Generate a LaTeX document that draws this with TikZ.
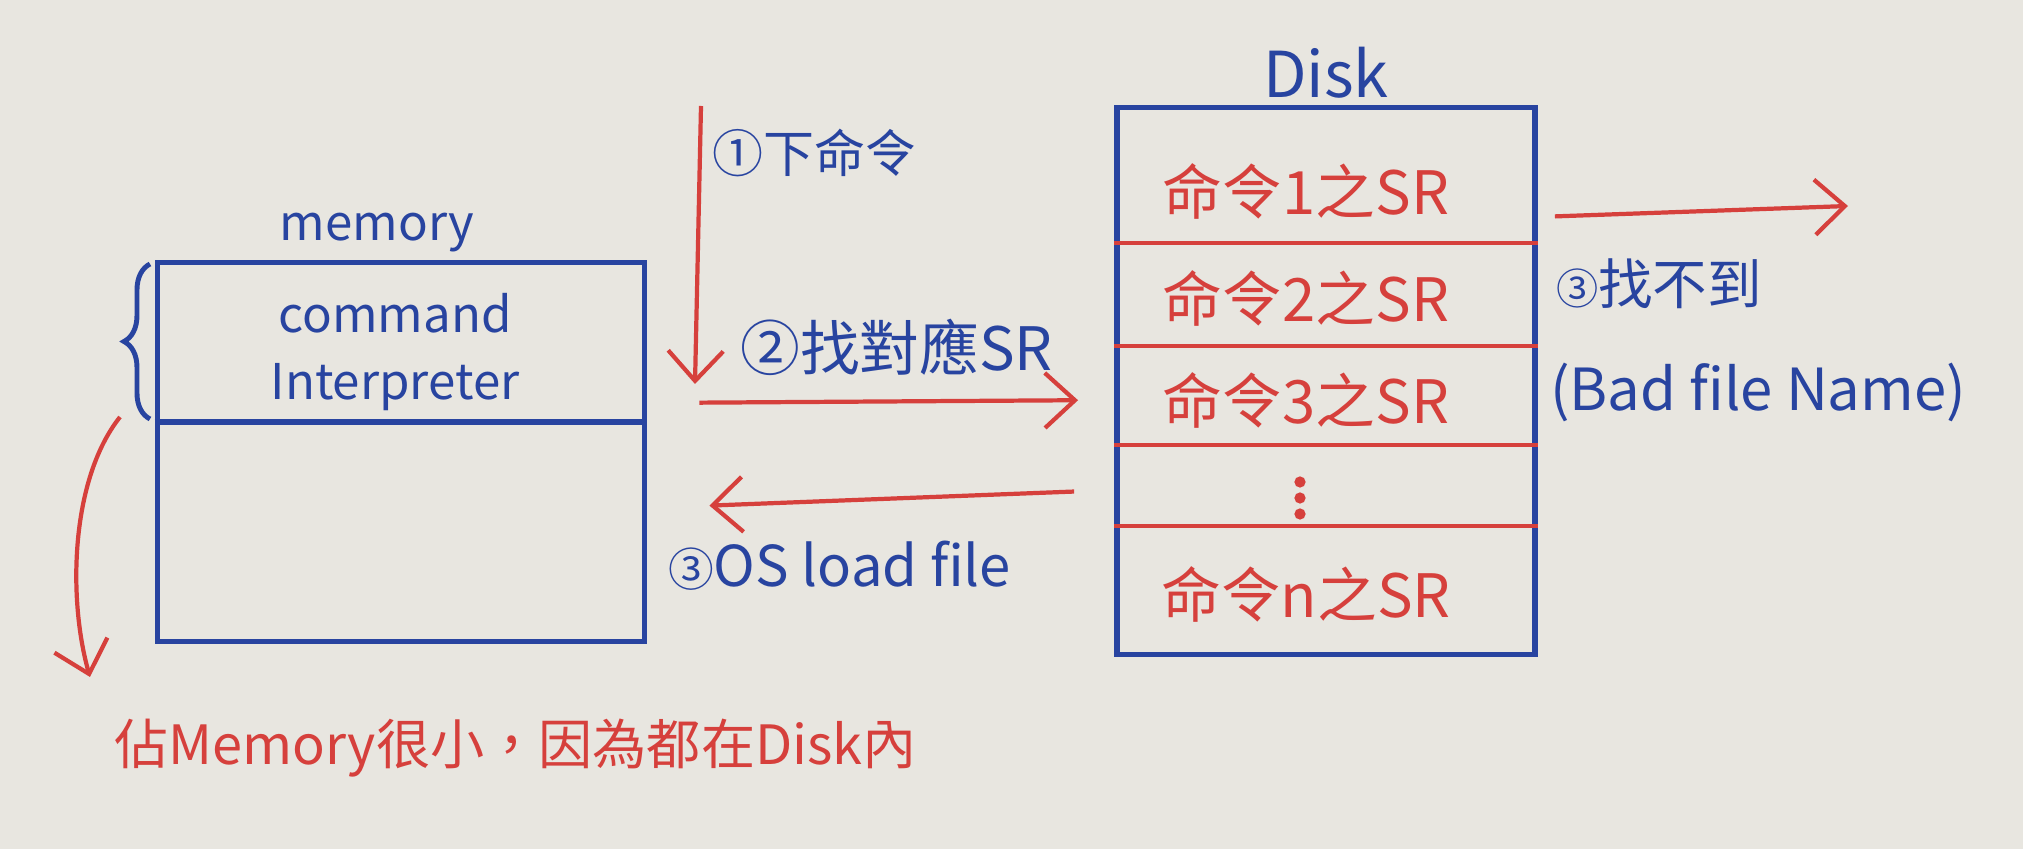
\documentclass[tikz,border=0pt]{standalone}
\usepackage{fontspec}
\setmainfont{Noto Sans CJK TC}
\usetikzlibrary{arrows.meta, positioning, decorations.pathreplacing}
\definecolor{penblue}{RGB}{40,68,160}
\definecolor{penred}{RGB}{214,64,60}
\definecolor{paper}{RGB}{232,230,224}

\begin{document}
\begin{tikzpicture}[x=0.01cm, y=-0.01cm,
  box/.style={draw=penblue, line width=1.6pt, inner sep=0pt},
  bluetxt/.style={text=penblue, inner sep=1pt, font=\fontsize{15}{19}\selectfont},
  redtxt/.style={text=penred, inner sep=1pt, font=\fontsize{17}{20}\selectfont},
  divline/.style={draw=penred, line width=1.1pt},
  redarrow/.style={draw=penred, line width=1.2pt,
                   -{Straight Barb[length=3mm, width=5.5mm]}}]

  % paper
  \fill[paper] (0,0) rectangle (2023,849);
  \useasboundingbox (0,0) rectangle (2023,849);

  % memory
  \node[box, minimum width=4.87cm, minimum height=3.79cm] (membox) at (401,452) {};
  \draw[box] (membox.west |- 0,422) -- (membox.east |- 0,422);
  \node[bluetxt, above=0.03cm of membox.north, xshift=-0.24cm,
        font=\fontsize{14}{18}\selectfont] (memlabel) {memory};
  \node[bluetxt, align=center, font=\fontsize{14}{19}\selectfont] (cmdint) at (395,352)
       {command\\Interpreter};
  \coordinate (bracebot) at (150,419);
  \coordinate (bracetop) at (150,264);
  \draw[draw=penblue, line width=1.4pt, decorate,
        decoration={brace, amplitude=0.26cm}] (bracebot) -- (bracetop);

  % disk
  \node[box, minimum width=4.18cm, minimum height=5.47cm] (disk) at (1326,381) {};
  \node[bluetxt, above=0.02cm of disk.north, font=\fontsize{18}{20}\selectfont] (disklabel) {Disk};
  \foreach \y in {243,346,445,526}
    \draw[divline] (disk.west |- 0,\y) -- (disk.east |- 0,\y);
  \foreach \n/\y in {1/191, 2/298, 3/400, n/594}
    \node[redtxt] (sr\n) at (1306,\y) {命令\n{}之SR};
  \foreach \d in {0,1,2}
    \fill[penred] (1300,482+\d*16) circle (1.6pt);

  % command flow
  \coordinate (cmdtop) at (701,106);
  \coordinate (cmdbot) at (695,384);
  \draw[redarrow] (cmdtop) -- (cmdbot);
  \node[bluetxt, anchor=west, font=\fontsize{14.5}{19}\selectfont] (lblcmd) at (708,153) {①下命令};
  \node[bluetxt, anchor=west, font=\fontsize{17}{20}\selectfont] (lblfind) at (736,347) {②找對應SR};
  \draw[redarrow, shorten <=0.52cm, shorten >=0.36cm] (membox.east |- 0,403) -- (disk.west |- 0,400);
  \draw[redarrow, shorten <=0.40cm, shorten >=0.62cm] (disk.west |- 0,490) -- (membox.east |- 0,508);
  \node[bluetxt, anchor=west, font=\fontsize{16}{20}\selectfont] (lblload) at (664,566)
       {{\fontsize{13}{16}\selectfont ③}OS load file};

  % not found
  \coordinate (nofile) at (1848,206);
  \draw[redarrow, shorten <=0.17cm] (disk.east |- 0,217) -- (nofile);
  \node[bluetxt, anchor=west, font=\fontsize{15.5}{19}\selectfont] (lblmiss) at (1552,284)
       {{\fontsize{12}{16}\selectfont ③}找不到};
  \node[bluetxt, anchor=west, font=\fontsize{16.5}{20}\selectfont] (lblbad) at (1546,392) {(Bad file Name)};

  % note
  \coordinate (tailtop) at (120,417);
  \coordinate (tailtip) at (90,677);
  \draw[redarrow] (tailtop) .. controls (70,480) and (68,600) .. (tailtip);
  \node[redtxt, anchor=west, font=\fontsize{15.4}{20}\selectfont] (note) at (110,748)
       {佔Memory很小，因為都在Disk內};
\end{tikzpicture}
\end{document}
